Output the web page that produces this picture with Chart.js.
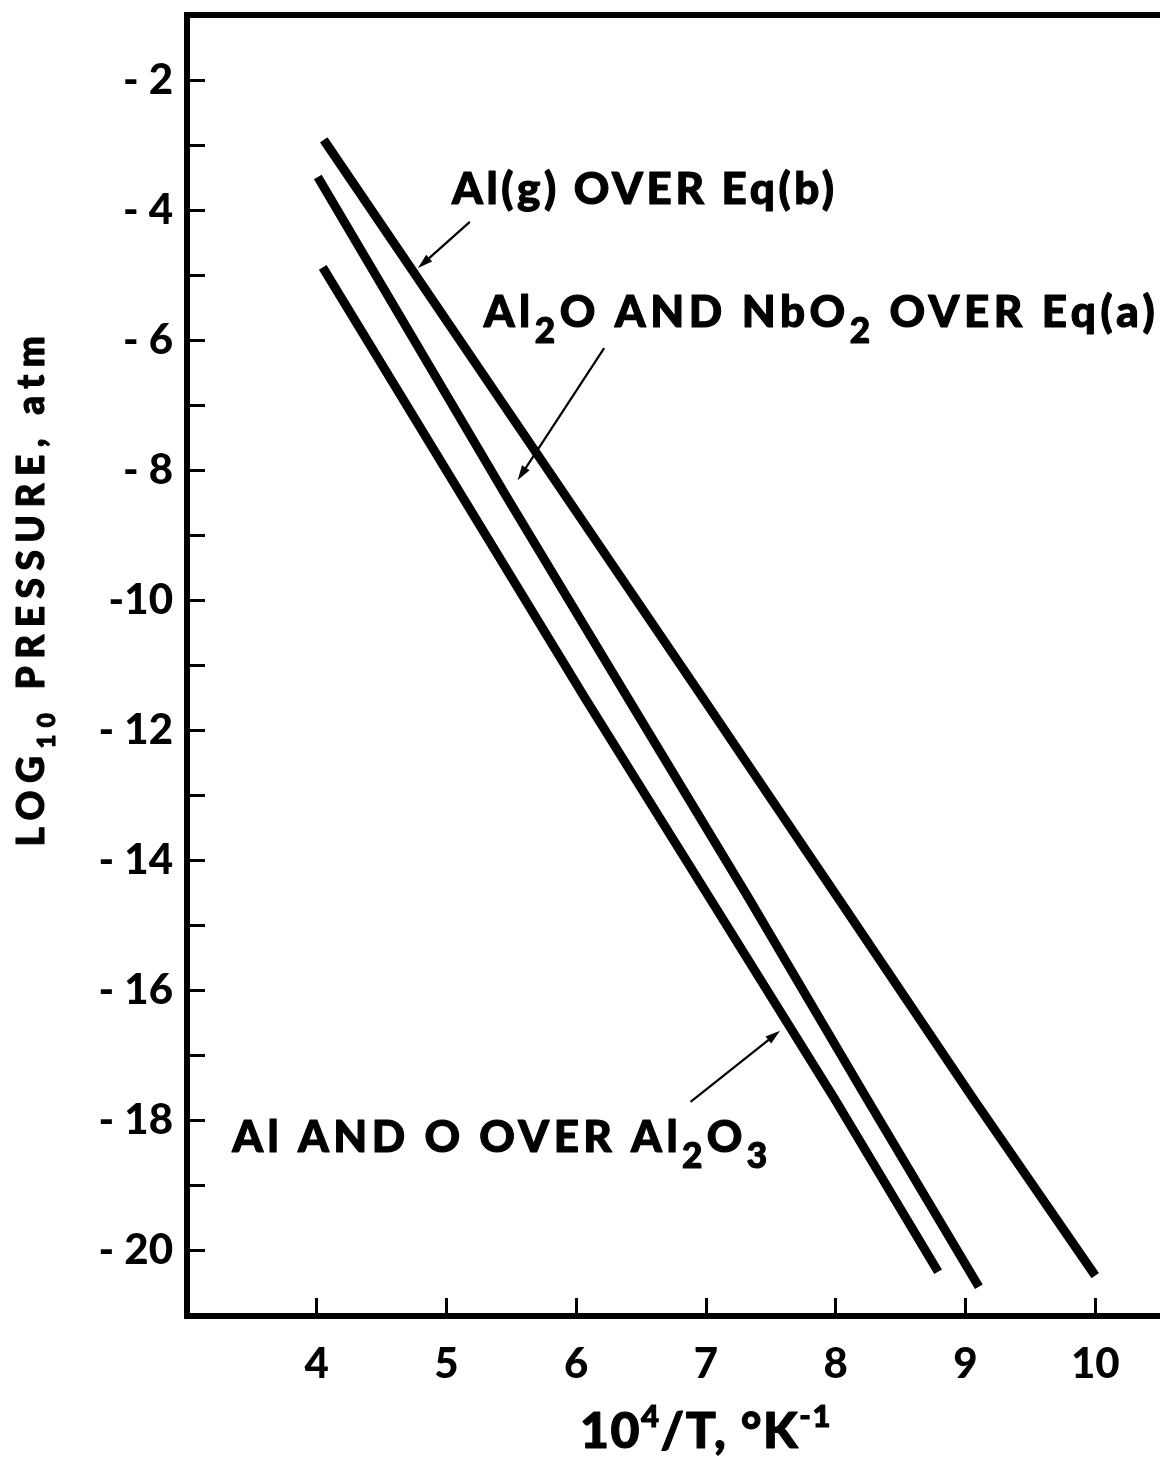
<!DOCTYPE html>
<html>
<head>
<meta charset="utf-8">
<script src="https://cdn.jsdelivr.net/npm/chart.js@4.4.1/dist/chart.umd.min.js"></script>
<style>
  html, body { margin: 0; padding: 0; background: #fff; overflow: hidden; }
  #wrap { width: 1240px; height: 1459px; }
</style>
</head>
<body>
<div id="wrap"><canvas id="c" width="1240" height="1459"></canvas></div>
<script>
// Equilibrium vapour pressures over the Nb / Al2O3 system:
// log10 p (atm) plotted against 10^4/T (K^-1).

// Al(g) over Eq(b)
const algX = [4.054, 5.93, 6.98, 8.02, 9.06, 10.00];
const algY = [-2.92, -8.43, -11.51, -14.58, -17.66, -20.38];

// Al2O and NbO2 over Eq(a)
const al2oX = [4.008, 5.47, 6.40, 7.33, 8.24, 9.103];
const al2oY = [-3.49, -8.43, -11.51, -14.58, -17.66, -20.55];

// Al and O over Al2O3
const alOX = [4.046, 5.13, 6.07, 7.03, 7.99, 8.789];
const alOY = [-4.88, -8.43, -11.51, -14.58, -17.66, -20.32];

// Axis ticks
const xTickValues = [4, 5, 6, 7, 8, 9, 10];
const xTickLabels = ['4', '5', '6', '7', '8', '9', '10'];
const yTickValues = [-20, -19, -18, -17, -16, -15, -14, -13, -12, -11, -10, -9, -8, -7, -6, -5, -4, -3, -2];
const yLabelValues = [-20, -18, -16, -14, -12, -10, -8, -6, -4, -2];
const yTickLabels = ['- 20', '- 18', '- 16', '- 14', '- 12', '-10', '- 8', '- 6', '- 4', '- 2'];

const FONT = 'Lato, "DejaVu Sans", sans-serif';
const WEIGHT = 900;

const toPoints = (xs, ys) => xs.map((x, i) => ({ x, y: ys[i] }));

const lineStyle = {
  showLine: true,
  borderColor: '#000',
  backgroundColor: '#000',
  borderWidth: 9,
  borderCapStyle: 'butt',
  borderJoinStyle: 'round',
  pointRadius: 0,
  pointHoverRadius: 0,
  tension: 0,
  fill: false
};

// Curve labels with their pointer arrows (data coordinates)
const notes = [
  {
    parts: [['Al(g) OVER Eq(b)', '']], spacing: 3.6,
    at: [5.042, -3.908], from: [5.18, -4.18], to: [4.78, -4.89]
  },
  {
    parts: [['Al', ''], ['2', 'sub'], ['O AND NbO', ''], ['2', 'sub'], [' OVER Eq(a)', '']], spacing: 4.5,
    at: [5.287, -5.80], from: [6.215, -6.12], to: [5.548, -8.154]
  },
  {
    parts: [['Al AND O OVER Al', ''], ['2', 'sub'], ['O', ''], ['3', 'sub']], spacing: 4.4,
    at: [3.349, -18.48], from: [6.881, -17.71], to: [7.571, -16.615]
  }
];

// Draws a run of text pieces; 'sub' and 'sup' pieces are set smaller and shifted.
function drawRich(ctx, parts, x0, y0, size, spacing, subScale, subDrop, supRise) {
  let cx = x0;
  ctx.lineWidth = 1.1;
  ctx.lineJoin = 'round';
  for (const [t, mode] of parts) {
    const s = mode ? size * subScale : size;
    ctx.font = `${WEIGHT} ${s}px ${FONT}`;
    ctx.letterSpacing = spacing + 'px';
    const dy = mode === 'sub' ? size * subDrop : mode === 'sup' ? -size * supRise : 0;
    ctx.fillText(t, cx, y0 + dy);
    ctx.strokeText(t, cx, y0 + dy);
    cx += ctx.measureText(t).width;
  }
  return cx - x0;
}

function measureRich(ctx, parts, size, spacing, subScale) {
  let w = 0;
  for (const [t, mode] of parts) {
    const s = mode ? size * subScale : size;
    ctx.font = `${WEIGHT} ${s}px ${FONT}`;
    ctx.letterSpacing = spacing + 'px';
    w += ctx.measureText(t).width;
  }
  return w;
}

function drawArrow(ctx, x1, y1, x2, y2) {
  const ang = Math.atan2(y2 - y1, x2 - x1);
  const head = 15, half = 4.5;
  ctx.lineWidth = 2.2;
  ctx.beginPath();
  ctx.moveTo(x1, y1);
  ctx.lineTo(x2 - Math.cos(ang) * head * 0.6, y2 - Math.sin(ang) * head * 0.6);
  ctx.stroke();
  ctx.beginPath();
  ctx.moveTo(x2, y2);
  ctx.lineTo(x2 - Math.cos(ang) * head + Math.sin(ang) * half, y2 - Math.sin(ang) * head - Math.cos(ang) * half);
  ctx.lineTo(x2 - Math.cos(ang) * head - Math.sin(ang) * half, y2 - Math.sin(ang) * head + Math.cos(ang) * half);
  ctx.closePath();
  ctx.fill();
}

const notesPlugin = {
  id: 'curveNotes',
  afterDatasetsDraw(chart) {
    const { ctx, chartArea } = chart;
    const xs = chart.scales.x, ys = chart.scales.y;
    ctx.save();
    ctx.fillStyle = '#000';
    ctx.strokeStyle = '#000';
    ctx.textAlign = 'left';
    ctx.textBaseline = 'alphabetic';
    for (const n of notes) {
      drawRich(ctx, n.parts, xs.getPixelForValue(n.at[0]), ys.getPixelForValue(n.at[1]), 44, n.spacing, 0.8, 0.36, 0.4);
      drawArrow(ctx, xs.getPixelForValue(n.from[0]), ys.getPixelForValue(n.from[1]),
                xs.getPixelForValue(n.to[0]), ys.getPixelForValue(n.to[1]));
    }

    // x-axis title: 10^4/T, °K^-1
    const xParts = [['10', ''], ['4', 'sup'], ['/T, °K', ''], ['-1', 'sup']];
    const xw = measureRich(ctx, xParts, 50, 1.5, 0.62);
    drawRich(ctx, xParts, (chartArea.left + chartArea.right) / 2 - xw / 2, chartArea.bottom + 132, 50, 1.5, 0.62, 0.3, 0.42);

    // y-axis title: LOG10 PRESSURE, atm
    const yParts = [['LOG', ''], ['10', 'sub'], [' PRESSURE, atm', '']];
    const yw = measureRich(ctx, yParts, 37, 7.5, 0.65);
    ctx.translate(chartArea.left - 143, ys.getPixelForValue(-9.8));
    ctx.rotate(-Math.PI / 2);
    drawRich(ctx, yParts, -yw / 2, 0, 37, 7.5, 0.65, 0.3, 0.4);
    ctx.restore();
  }
};

const tickFont = { family: FONT, size: 42, weight: String(WEIGHT) };

new Chart(document.getElementById('c'), {
  type: 'scatter',
  data: {
    datasets: [
      { label: 'Al(g) OVER Eq(b)', data: toPoints(algX, algY), ...lineStyle },
      { label: 'Al2O AND NbO2 OVER Eq(a)', data: toPoints(al2oX, al2oY), ...lineStyle },
      { label: 'Al AND O OVER Al2O3', data: toPoints(alOX, alOY), ...lineStyle }
    ]
  },
  options: {
    responsive: false,
    animation: false,
    events: [],
    layout: { padding: { top: 15, right: 15, left: 0, bottom: 0 } },
    plugins: { legend: { display: false }, tooltip: { enabled: false }, title: { display: false } },
    scales: {
      x: {
        type: 'linear', position: 'bottom', min: 3, max: 11,
        afterBuildTicks: s => { s.ticks = xTickValues.map(v => ({ value: v })); },
        afterFit: s => { s.height = 143; s.paddingLeft = 0; s.paddingRight = 0; },
        ticks: {
          autoSkip: false, maxRotation: 0, color: '#000', font: tickFont, padding: 41,
          callback: v => xTickLabels[xTickValues.indexOf(v)] ?? ''
        },
        grid: { drawOnChartArea: false, drawTicks: true, tickLength: -18, tickWidth: 3, tickColor: '#000' },
        border: { display: true, color: '#000', width: 6 }
      },
      xTop: {
        type: 'linear', position: 'top', min: 3, max: 11,
        afterFit: s => { s.height = 0; s.paddingLeft = 0; s.paddingRight = 0; },
        ticks: { display: false },
        grid: { display: false, drawOnChartArea: false, drawTicks: false },
        border: { display: true, color: '#000', width: 6 }
      },
      y: {
        type: 'linear', position: 'left', min: -21, max: -1,
        afterBuildTicks: s => { s.ticks = yTickValues.map(v => ({ value: v })); },
        afterFit: s => { s.width = 187; s.paddingTop = 0; s.paddingBottom = 0; },
        ticks: {
          autoSkip: false, color: '#000', font: tickFont, padding: 32,
          callback: v => { const i = yLabelValues.indexOf(v); return i >= 0 ? yTickLabels[i] : ''; }
        },
        grid: { drawOnChartArea: false, drawTicks: true, tickLength: -18, tickWidth: 3, tickColor: '#000' },
        border: { display: true, color: '#000', width: 6 }
      },
      yRight: {
        type: 'linear', position: 'right', min: -21, max: -1,
        afterFit: s => { s.width = 0; s.paddingTop = 0; s.paddingBottom = 0; },
        ticks: { display: false },
        grid: { display: false, drawOnChartArea: false, drawTicks: false },
        border: { display: true, color: '#000', width: 6 }
      }
    }
  },
  plugins: [notesPlugin]
});
</script>
</body>
</html>
